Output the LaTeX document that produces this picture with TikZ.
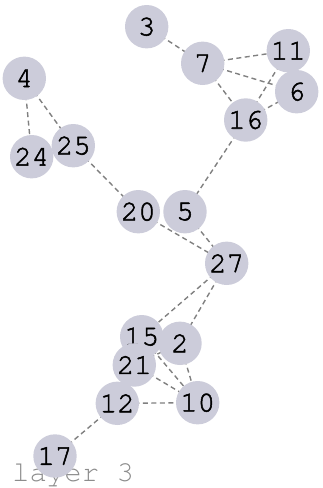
\documentclass[tikz,border=0pt]{standalone}
\usepackage{fontspec}
\setmonofont{TeX Gyre Cursor}
\newfontfamily\lblfont[FakeBold=1.8]{TeX Gyre Cursor}
\definecolor{nodefill}{RGB}{204,204,218}
\definecolor{edgegray}{RGB}{128,128,128}
\definecolor{layergray}{RGB}{140,140,140}
\tikzset{
  vtx/.style={circle, fill=nodefill, minimum size=43.4pt, inner sep=0pt,
    font=\lblfont\fontsize{29}{29}\selectfont, text=black},
  lnk/.style={draw=edgegray, line width=1.4pt, dash pattern=on 5pt off 3.5pt},
  layerlbl/.style={anchor=base west, inner sep=0pt, text=layergray,
    font=\ttfamily\fontsize{29}{29}\selectfont}
}
\begin{document}
\begin{tikzpicture}[x=1pt,y=-1pt]
\useasboundingbox (0,0) rectangle (323,488);
\node[layerlbl] (layer) at (12,481) {layer 3};
% node positions
\coordinate (p3) at (146.7,26.7);
\coordinate (p7) at (202.7,63.3);
\coordinate (p11) at (288.3,50.7);
\coordinate (p6) at (296.7,91.7);
\coordinate (p16) at (245.7,120);
\coordinate (p4) at (24.3,78.3);
\coordinate (p24) at (31.7,156.7);
\coordinate (p25) at (73.3,145.7);
\coordinate (p20) at (138.3,211.7);
\coordinate (p5) at (185,211.7);
\coordinate (p27) at (226.7,263.3);
\coordinate (p15) at (141.7,336.7);
\coordinate (p2) at (180,343.3);
\coordinate (p21) at (134.3,365);
\coordinate (p12) at (117.3,403.3);
\coordinate (p10) at (197.7,402.7);
\coordinate (p17) at (55,456);
% edges
\draw[lnk] (p3) -- (p7);
\draw[lnk] (p7) -- (p11);
\draw[lnk] (p7) -- (p6);
\draw[lnk] (p7) -- (p16);
\draw[lnk] (p16) -- (p11);
\draw[lnk] (p16) -- (p6);
\draw[lnk] (p4) -- (p24);
\draw[lnk] (p4) -- (p25);
\draw[lnk] (p25) -- (p20);
\draw[lnk] (p20) -- (p5);
\draw[lnk] (p16) -- (p5);
\draw[lnk] (p20) -- (p27);
\draw[lnk] (p5) -- (p27);
\draw[lnk] (p27) -- (p15);
\draw[lnk] (p27) -- (p2);
\draw[lnk] (p15) -- (p10);
\draw[lnk] (p21) -- (p2);
\draw[lnk] (p21) -- (p10);
\draw[lnk] (p2) -- (p10);
\draw[lnk] (p12) -- (p10);
\draw[lnk] (p12) -- (p17);
% nodes
\node[vtx] (n24) at (p24) {24};
\node[vtx] (n25) at (p25) {25};
\node[vtx] (n4) at (p4) {4};
\node[vtx] (n3) at (p3) {3};
\node[vtx] (n7) at (p7) {7};
\node[vtx] (n11) at (p11) {11};
\node[vtx] (n6) at (p6) {6};
\node[vtx] (n16) at (p16) {16};
\node[vtx] (n20) at (p20) {20};
\node[vtx] (n5) at (p5) {5};
\node[vtx] (n27) at (p27) {27};
\node[vtx] (n15) at (p15) {15};
\node[vtx] (n2) at (p2) {2};
\node[vtx] (n21) at (p21) {21};
\node[vtx] (n12) at (p12) {12};
\node[vtx] (n10) at (p10) {10};
\node[vtx] (n17) at (p17) {17};
\end{tikzpicture}
\end{document}
